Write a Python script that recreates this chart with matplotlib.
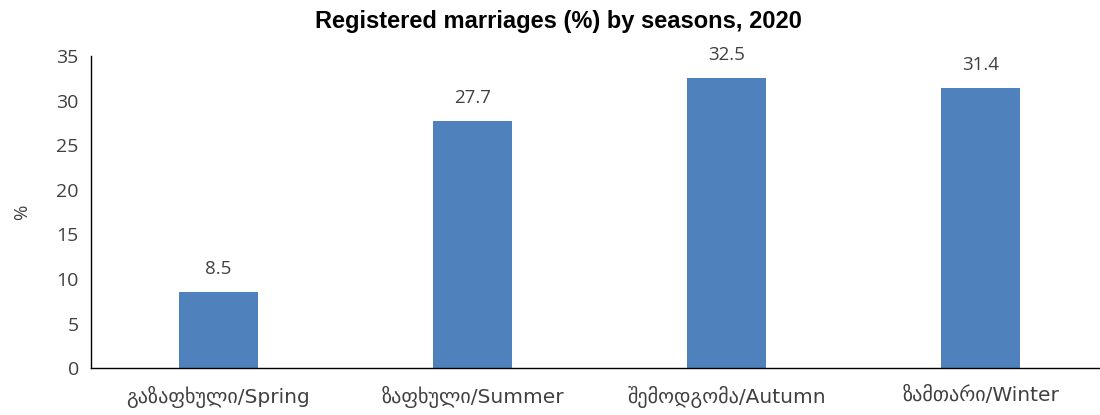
import matplotlib
matplotlib.use('Agg')
import matplotlib.pyplot as plt

categories = ['გაზაფხული/Spring', 'ზაფხული/Summer', 'შემოდგომა/Autumn', 'ზამთარი/Winter']
values = [8.5, 27.7, 32.5, 31.4]
yticks = [0, 5, 10, 15, 20, 25, 30, 35]

plt.rcParams['font.family'] = ['Open Sans', 'DejaVu Sans']

fig = plt.figure(figsize=(11, 4.15), dpi=100)
ax = fig.add_axes([0.083, 0.113, 0.924, 0.752])

x = range(len(categories))
bars = ax.bar(x, values, width=0.31, color='#4f81bd')
for xi, v in zip(x, values):
    ax.text(xi, v + 1.6, f'{v}', ha='center', va='bottom', fontsize=13.5, color='#404040')

ax.set_xlim(-0.5, 3.5)
ax.set_ylim(0, 35)
ax.set_yticks(yticks)
ax.set_xticks(list(x))
ax.set_xticklabels(categories, fontsize=14.5, color='#404040', family=['DejaVu Sans'])
ax.tick_params(axis='y', labelsize=14, labelcolor='#404040', length=0, pad=9)
ax.tick_params(axis='x', length=0, pad=13)
ax.set_ylabel('%', fontsize=13.5, color='#404040', labelpad=18)

for s in ['top', 'right']:
    ax.spines[s].set_visible(False)
for s in ['left', 'bottom']:
    ax.spines[s].set_color('#000000')
    ax.spines[s].set_linewidth(1.0)

fig.text(0.508, 0.948, 'Registered marriages (%) by seasons, 2020', ha='center', va='center',
         fontsize=17, fontweight='bold', family=['Liberation Sans'])

fig.savefig('out.png', dpi=100)
